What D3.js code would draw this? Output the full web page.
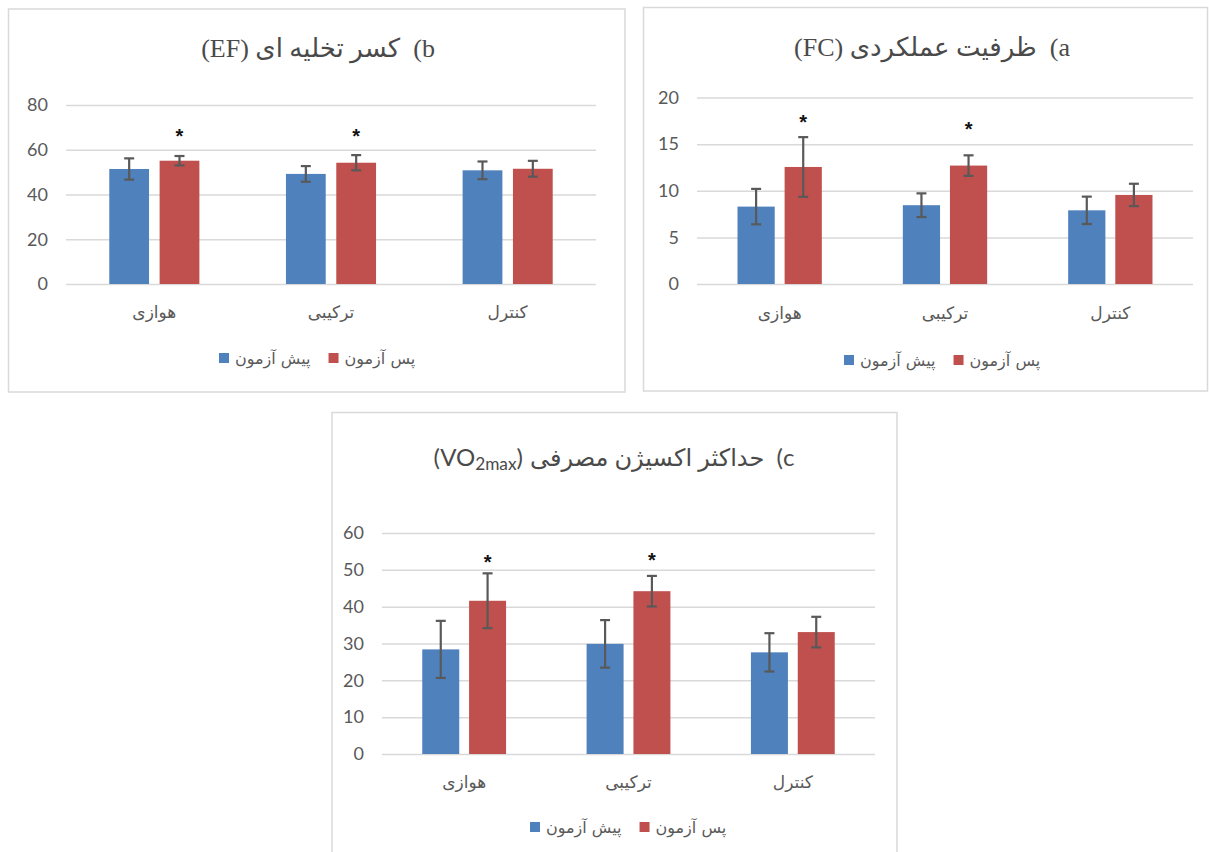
<!DOCTYPE html>
<html>
<head>
<meta charset="utf-8">
<script src="https://cdn.jsdelivr.net/npm/d3@7"></script>
<style>
  body { margin: 0; background: #fff; }
  svg { display: block; }
</style>
</head>
<body>
<svg id="fig" width="1209" height="852"></svg>
<script>
// Groups and series shared by all three panels
const categories = ["هوازی", "ترکیبی", "کنترل"];
const seriesNames = ["پیش آزمون", "پس آزمون"];
const seriesColors = ["#4F81BD", "#C0504D"];

// a) functional capacity (FC)
const fcPre = [8.3, 8.45, 7.9];
const fcPreSd = [1.9, 1.27, 1.47];
const fcPost = [12.55, 12.7, 9.55];
const fcPostSd = [3.2, 1.1, 1.2];
const fcStars = [17.8, 17.1, null];
const fcTicks = [0, 5, 10, 15, 20];

// b) ejection fraction (EF)
const efPre = [51.4, 49.2, 50.8];
const efPreSd = [4.75, 3.5, 3.95];
const efPost = [55.1, 54.2, 51.5];
const efPostSd = [2.1, 3.4, 3.55];
const efStars = [68, 68, null];
const efTicks = [0, 20, 40, 60, 80];

// c) maximal oxygen uptake (VO2max)
const voPre = [28.4, 29.9, 27.6];
const voPreSd = [7.75, 6.45, 5.2];
const voPost = [41.6, 44.2, 33.1];
const voPostSd = [7.45, 4.15, 4.15];
const voStars = [53.1, 53.7, null];
const voTicks = [0, 10, 20, 30, 40, 50, 60];

const svg = d3.select("#fig");
const GRAY = "#595959";
const GRID = "#D9D9D9";

const panels = [
  {
    box: [8.5, 9, 625, 392],
    plot: { x0: 66, x1: 596, yBase: 284, yTop: 105 },
    ticks: efTicks, pre: efPre, preSd: efPreSd, post: efPost, postSd: efPostSd, stars: efStars,
    title: { x: 318, y: 57, serif: true, size: 26, rtl: "b)  کسر تخلیه ای (EF)" },
    catY: 318, legend: { x: 219, y: 358 }
  },
  {
    box: [643.5, 7.5, 1207.5, 391],
    plot: { x0: 697, x1: 1193, yBase: 284, yTop: 97.5 },
    ticks: fcTicks, pre: fcPre, preSd: fcPreSd, post: fcPost, postSd: fcPostSd, stars: fcStars,
    title: { x: 932, y: 56, serif: true, size: 26, rtl: "a)  ظرفیت عملکردی (FC)" },
    catY: 319, legend: { x: 844, y: 360 }
  },
  {
    box: [332, 412.5, 897, 870],
    plot: { x0: 382, x1: 875, yBase: 754, yTop: 533 },
    ticks: voTicks, pre: voPre, preSd: voPreSd, post: voPost, postSd: voPostSd, stars: voStars,
    title: { x: 614, y: 466, serif: false, size: 24, rtl: "c)  حداکثر اکسیژن مصرفی",
             ltr: [{ t: "(VO" }, { t: "2max", sub: true }, { t: ")" }] },
    catY: 788, legend: { x: 530, y: 827 }
  }
];

panels.forEach(p => {
  const g = svg.append("g");

  // frame
  g.append("rect")
    .attr("x", p.box[0]).attr("y", p.box[1])
    .attr("width", p.box[2] - p.box[0]).attr("height", p.box[3] - p.box[1])
    .attr("fill", "#fff").attr("stroke", GRID).attr("stroke-width", 1.5);

  const x = d3.scaleBand().domain(categories)
    .range([p.plot.x0, p.plot.x1]).paddingInner(0.49).paddingOuter(0.245);
  const xs = d3.scaleBand().domain(seriesNames)
    .range([0, x.bandwidth()]).paddingInner(0.21);
  const y = d3.scaleLinear().domain([0, d3.max(p.ticks)])
    .range([p.plot.yBase, p.plot.yTop]);

  // value axis with gridlines
  const axis = g.append("g")
    .attr("transform", `translate(${p.plot.x0},0)`)
    .call(d3.axisLeft(y).tickValues(p.ticks)
      .tickSize(-(p.plot.x1 - p.plot.x0)).tickPadding(18));
  axis.select(".domain").remove();
  axis.selectAll(".tick line").attr("stroke", GRID).attr("stroke-width", 1.5);
  axis.selectAll(".tick text")
    .attr("fill", GRAY).style("font-family", "Lato, 'Open Sans', sans-serif")
    .style("font-size", "18px");

  // bars + error bars
  const rows = categories.map((c, i) => ({
    cat: c,
    vals: [
      { s: seriesNames[0], v: p.pre[i], sd: p.preSd[i], col: seriesColors[0] },
      { s: seriesNames[1], v: p.post[i], sd: p.postSd[i], col: seriesColors[1] }
    ],
    star: p.stars[i]
  }));

  const grp = g.selectAll("g.grp").data(rows).join("g")
    .attr("class", "grp")
    .attr("transform", d => `translate(${x(d.cat)},0)`);

  grp.selectAll("rect.bar").data(d => d.vals).join("rect")
    .attr("class", "bar")
    .attr("x", d => xs(d.s)).attr("width", xs.bandwidth())
    .attr("y", d => y(d.v)).attr("height", d => y(0) - y(d.v))
    .attr("fill", d => d.col);

  const eb = grp.selectAll("g.err").data(d => d.vals).join("g")
    .attr("class", "err")
    .attr("stroke", GRAY).attr("stroke-width", 2.2).attr("fill", "none");
  const cx = d => xs(d.s) + xs.bandwidth() / 2;
  eb.append("line")
    .attr("x1", cx).attr("x2", cx)
    .attr("y1", d => y(d.v + d.sd)).attr("y2", d => y(d.v - d.sd));
  [1, -1].forEach(k => {
    eb.append("line")
      .attr("x1", d => cx(d) - 5).attr("x2", d => cx(d) + 5)
      .attr("y1", d => y(d.v + k * d.sd)).attr("y2", d => y(d.v + k * d.sd));
  });

  // significance markers above the post-test bars
  grp.filter(d => d.star != null).append("text")
    .attr("x", xs(seriesNames[1]) + xs.bandwidth() / 2)
    .attr("y", d => y(d.star) + 11)
    .attr("text-anchor", "middle")
    .attr("fill", "#111")
    .style("font-family", "'Liberation Sans', Arial, sans-serif")
    .style("font-size", "20px").style("font-weight", "bold")
    .text("*");

  // group labels
  g.selectAll("text.cat").data(categories).join("text")
    .attr("class", "cat")
    .attr("x", d => x(d) + x.bandwidth() / 2)
    .attr("y", p.catY)
    .attr("text-anchor", "middle")
    .attr("fill", GRAY)
    .style("font-family", "'DejaVu Sans', sans-serif")
    .style("font-size", "17px")
    .text(d => d);

  // title: right-to-left main part, optional left-to-right suffix on its left
  const family = p.title.serif
    ? "'Liberation Serif', 'DejaVu Sans', serif"
    : "Lato, 'DejaVu Sans', sans-serif";
  const main = g.append("text")
    .attr("y", p.title.y)
    .attr("text-anchor", "middle")
    .attr("direction", "rtl")
    .style("unicode-bidi", "embed")
    .style("white-space", "pre")
    .attr("fill", "#4a4a4a")
    .style("font-family", family)
    .style("font-size", p.title.size + "px")
    .text(p.title.rtl);
  const w1 = main.node().getComputedTextLength();
  if (p.title.ltr) {
    const suf = g.append("text")
      .attr("y", p.title.y)
      .attr("text-anchor", "start")
      .attr("direction", "ltr")
      .attr("fill", "#4a4a4a")
      .style("font-family", family)
      .style("font-size", p.title.size + "px");
    p.title.ltr.forEach(part => {
      const ts = suf.append("tspan").text(part.t);
      if (part.sub) ts.attr("baseline-shift", "-22%").style("font-size", (p.title.size * 0.72) + "px");
    });
    const w2 = suf.node().getComputedTextLength();
    const gap = 7;
    const left = p.title.x - (w1 + gap + w2) / 2;
    suf.attr("x", left);
    main.attr("x", left + w2 + gap + w1 / 2);
  } else {
    main.attr("x", p.title.x);
  }

  // legend
  const lg = g.append("g").attr("transform", `translate(${p.legend.x},${p.legend.y})`);
  let lx = 0;
  seriesNames.forEach((s, i) => {
    lg.append("rect").attr("x", lx).attr("y", -5).attr("width", 10).attr("height", 10)
      .attr("fill", seriesColors[i]);
    const tx = lg.append("text").attr("x", lx + 16).attr("y", 5.5)
      .attr("fill", GRAY)
      .style("font-family", "'DejaVu Sans', sans-serif")
      .style("font-size", "16px")
      .text(s);
    lx += 16 + tx.node().getComputedTextLength() + 18;
  });
});
</script>
</body>
</html>
